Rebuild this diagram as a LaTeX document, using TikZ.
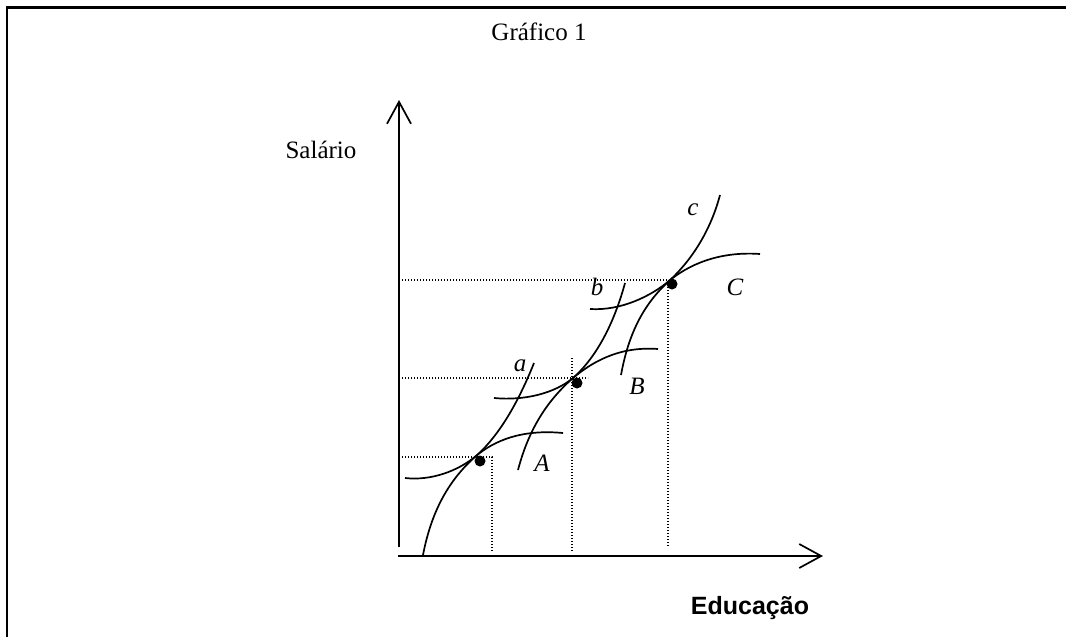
\documentclass[tikz,border=0pt]{standalone}
\usepackage{fontspec}
\setmainfont{Liberation Serif}
\newfontfamily\arialfont{Liberation Sans}
\usetikzlibrary{arrows.meta}
\begin{document}
\begin{tikzpicture}[x=1pt,y=-1pt,
  frame/.style={line width=2.5pt},
  curve/.style={line width=1.7pt},
  guide/.style={line width=1.2pt, dash pattern=on 1.2pt off 1.8pt},
  axis/.style={line width=1.7pt,-{Straight Barb[length=22pt,width=24pt,line width=1.7pt]}},
  lbl/.style={font=\fontsize{25}{30}\selectfont\itshape, inner sep=0pt},
  txt/.style={font=\fontsize{25}{30}\selectfont, inner sep=0pt, anchor=base},
  dotmark/.style={circle,fill=black,inner sep=0pt,minimum size=11pt}]
\useasboundingbox (0,0) rectangle (1066,637);
% frame
\draw[frame] (7,637) -- (7,7.5) -- (1066,7.5);
% titles
\node[txt] (title) at (539,40) {Gráfico 1};
\node[txt] (ylab) at (321,158) {Salário};
\node[txt, font=\fontsize{25}{30}\selectfont\arialfont\bfseries] (xlab) at (750,614) {Educação};
% axes
\coordinate (ytop) at (399,100);
\coordinate (xend) at (823,556);
\draw[axis] (399,547) -- (ytop);
\draw[axis] (398,556) -- (xend);
% tangent points
\coordinate (TA) at (476,456);
\coordinate (TB) at (573,378);
\coordinate (TC) at (669,281);
% dotted guides
\draw[guide] (399,457) -- (492,457) -- (492,551);
\draw[guide] (399,378) -- (588,378);
\draw[guide] (572,358) -- (572,552);
\draw[guide] (399,280) -- (668,280) -- (668,546);
% steep curves a, b, c
\draw[curve,shift={(TA)}] (-53,99) .. controls (-44,52) and (-25,22) .. (0,0) .. controls (25,-22) and (44,-58) .. (58,-93);
\draw[curve,shift={(TB)}] (-55,92) .. controls (-44,50) and (-25,22) .. (0,0) .. controls (25,-22) and (42,-58) .. (52,-95);
\draw[curve,shift={(TC)}] (-48,94) .. controls (-40,50) and (-24,22) .. (0,0) .. controls (24,-22) and (42,-52) .. (51,-86);
% S-shaped curves A, B, C
\draw[curve,shift={(TA)}] (-71,22) .. controls (-45,25) and (-18,15) .. (0,0) .. controls (18,-15) and (45,-27) .. (87,-23);
\draw[curve,shift={(TB)}] (-79,20) .. controls (-48,23) and (-18,15) .. (0,0) .. controls (18,-15) and (45,-32) .. (85,-29);
\draw[curve,shift={(TC)}] (-79,28) .. controls (-48,30) and (-18,15) .. (0,0) .. controls (18,-15) and (48,-30) .. (91,-27);
% dots
\node[dotmark] (dA) at (480,461) {};
\node[dotmark] (dB) at (577,383) {};
\node[dotmark] (dC) at (672,284) {};
% labels
\node[lbl] (la) at (520,366) {a};
\node[lbl] (lb) at (597,287) {b};
\node[lbl] (lc) at (693,210) {c};
\node[lbl] (lA) at (542,463) {A};
\node[lbl] (lB) at (637,386) {B};
\node[lbl] (lC) at (735,287) {C};
\end{tikzpicture}
\end{document}
